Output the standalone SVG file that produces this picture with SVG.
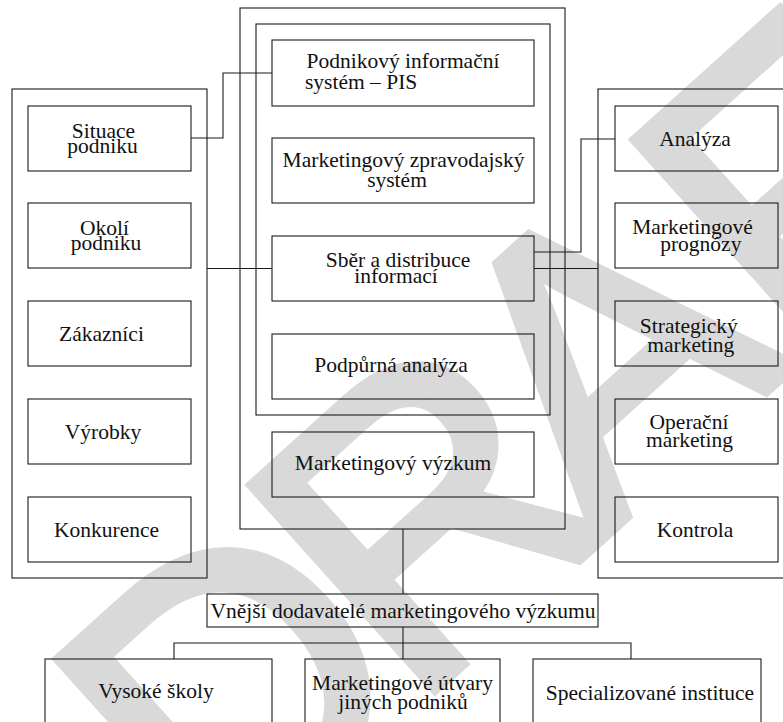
<svg xmlns="http://www.w3.org/2000/svg" width="783" height="722" viewBox="0 0 783 722">
  <style>
    .box { fill: none; stroke: #1a1a1a; stroke-width: 1.1; }
    .wire { fill: none; stroke: #1a1a1a; stroke-width: 1.1; }
    .lbl { font-family: "Liberation Serif", "Times New Roman", serif; font-size: 21.5px; fill: #111; text-anchor: middle; }
    .wm { font-family: "Liberation Sans", Arial, sans-serif; font-size: 398px; fill: #d9d9d9; stroke: #d9d9d9; stroke-width: 11; stroke-linejoin: miter; }
  </style>
  <rect width="783" height="722" fill="#fff"/>

  <!-- light grey DRAFT stamp behind everything -->
  <g id="watermark">
    <text class="wm" transform="rotate(-42)" x="-430 -170 81 346 589" y="803">DRAFT</text>
  </g>

  <!-- outer frames -->
  <g id="left-frame"><rect class="box" x="12" y="89" width="195" height="489"/></g>
  <g id="center-frame"><rect class="box" x="240" y="8" width="325" height="521"/></g>
  <g id="info-frame"><rect class="box" x="256" y="24" width="294" height="391"/></g>
  <g id="right-frame"><rect class="box" x="598" y="89" width="196" height="489"/></g>

  <!-- left column -->
  <g id="situace"><rect class="box" x="28" y="106" width="163" height="65"/>
    <text class="lbl" x="103.5" y="138">Situace</text><text class="lbl" x="102.5" y="153.3">podniku</text></g>
  <g id="okoli"><rect class="box" x="28" y="203" width="163" height="65"/>
    <text class="lbl" x="104.5" y="235">Okolí</text><text class="lbl" x="106" y="250">podniku</text></g>
  <g id="zakaznici"><rect class="box" x="28" y="301" width="163" height="65"/>
    <text class="lbl" x="101.5" y="341.3">Zákazníci</text></g>
  <g id="vyrobky"><rect class="box" x="28" y="399" width="163" height="65"/>
    <text class="lbl" x="103" y="439.3">Výrobky</text></g>
  <g id="konkurence"><rect class="box" x="28" y="497" width="163" height="65"/>
    <text class="lbl" x="106.5" y="536.7">Konkurence</text></g>

  <!-- center column -->
  <g id="pis"><rect class="box" x="272" y="40" width="262" height="66"/>
    <text class="lbl" x="403" y="68.3">Podnikový informační</text><text class="lbl" x="305" y="89.3" style="text-anchor:start">systém – PIS</text></g>
  <g id="zpravodajsky"><rect class="box" x="272" y="138" width="262" height="65"/>
    <text class="lbl" x="403.5" y="166.7">Marketingový zpravodajský</text><text class="lbl" x="397" y="186.7">systém</text></g>
  <g id="sber"><rect class="box" x="272" y="236" width="262" height="65"/>
    <text class="lbl" x="398" y="266.7">Sběr a distribuce</text><text class="lbl" x="396" y="283.3">informací</text></g>
  <g id="podpurna"><rect class="box" x="272" y="334" width="262" height="65"/>
    <text class="lbl" x="391" y="371.7">Podpůrná analýza</text></g>
  <g id="vyzkum"><rect class="box" x="272" y="432" width="262" height="65"/>
    <text class="lbl" x="393" y="470">Marketingový výzkum</text></g>

  <!-- right column -->
  <g id="analyza"><rect class="box" x="615" y="106" width="163" height="65"/>
    <text class="lbl" x="695" y="145.7">Analýza</text></g>
  <g id="prognozy"><rect class="box" x="615" y="203" width="163" height="65"/>
    <text class="lbl" x="692.5" y="233.5">Marketingové</text><text class="lbl" x="700.8" y="251">prognózy</text></g>
  <g id="strategicky"><rect class="box" x="615" y="301" width="163" height="65"/>
    <text class="lbl" x="688.8" y="333.3">Strategický</text><text class="lbl" x="690.8" y="351.7">marketing</text></g>
  <g id="operacni"><rect class="box" x="615" y="399" width="163" height="65"/>
    <text class="lbl" x="689" y="429">Operační</text><text class="lbl" x="689.5" y="446.7">marketing</text></g>
  <g id="kontrola"><rect class="box" x="615" y="497" width="163" height="65"/>
    <text class="lbl" x="695" y="536.7">Kontrola</text></g>

  <!-- external suppliers -->
  <g id="vnejsi"><rect class="box" x="207" y="594" width="391" height="33"/>
    <text class="lbl" x="403" y="618.3">Vnější dodavatelé marketingového výzkumu</text></g>
  <g id="vysoke"><rect class="box" x="45" y="659" width="227" height="70"/>
    <text class="lbl" x="156" y="698.3">Vysoké školy</text></g>
  <g id="utvary"><rect class="box" x="305" y="659" width="195" height="70"/>
    <text class="lbl" x="402.5" y="690">Marketingové útvary</text><text class="lbl" x="403" y="709">jiných podniků</text></g>
  <g id="instituce"><rect class="box" x="533" y="659" width="228" height="70"/>
    <text class="lbl" x="650" y="700">Specializované instituce</text></g>

  <!-- connectors -->
  <g id="connectors">
    <polyline class="wire" points="191,138 223,138 223,73 272,73"/>
    <line class="wire" x1="207" y1="268.5" x2="272" y2="268.5"/>
    <polyline class="wire" points="534,252 581,252 581,139 615,139"/>
    <line class="wire" x1="534" y1="268.5" x2="598" y2="268.5"/>
    <line class="wire" x1="403" y1="529" x2="403" y2="594"/>
    <line class="wire" x1="403" y1="627" x2="403" y2="659"/>
    <polyline class="wire" points="174,659 174,643 631,643 631,659"/>
  </g>
</svg>
